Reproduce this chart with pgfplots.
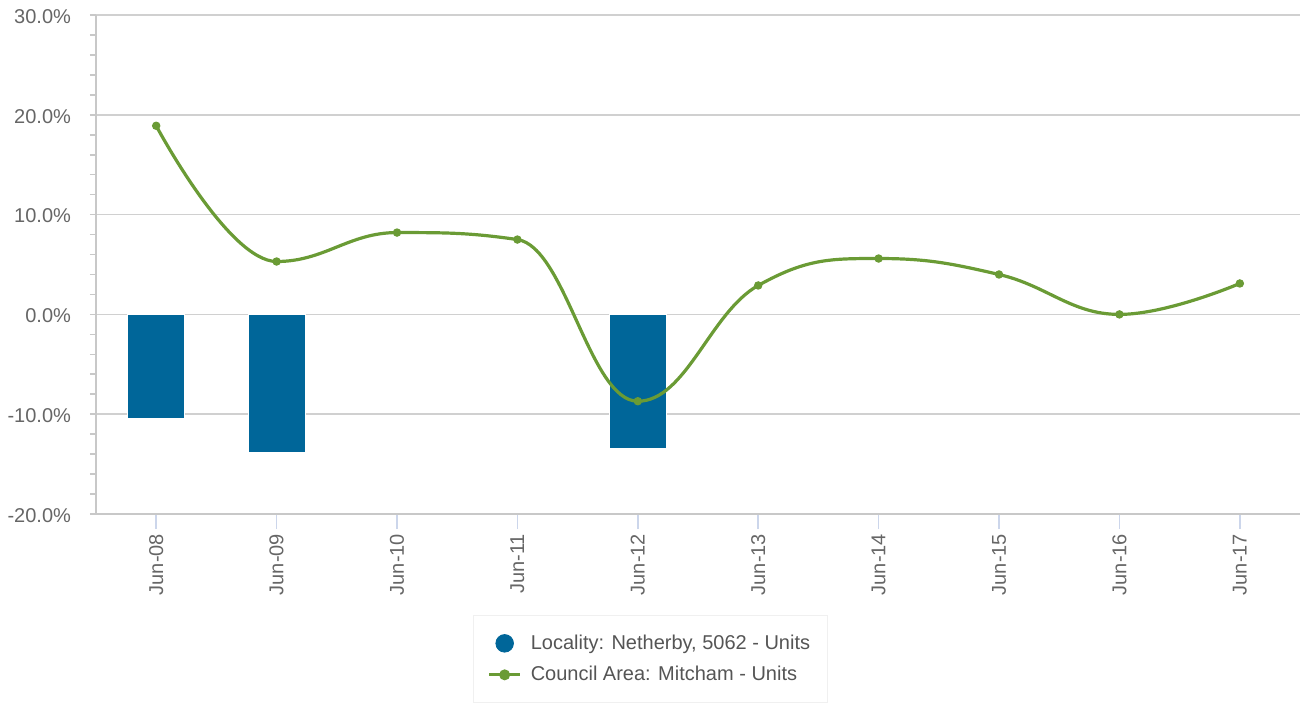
\documentclass[border=0pt]{standalone}
\usepackage{pgfplots}
\pgfplotsset{compat=1.18}
\usepackage{fontspec}
\setmainfont{Liberation Sans}
\definecolor{barblue}{HTML}{006699}
\definecolor{linegreen}{HTML}{6A9B35}
\definecolor{gridgray}{HTML}{D0D0D0}
\definecolor{axisgray}{HTML}{C8C8C8}
\definecolor{tickblue}{HTML}{CCD6EB}
\definecolor{labelgray}{HTML}{666666}
\definecolor{legendgray}{HTML}{555555}

% spline handler with clamped control points (no false extremes), like the web chart
\makeatletter
\newcount\hc@n \newcount\hc@i \newcount\hc@j
\def\hc@v#1#2{\csname hc#1\the#2\endcsname}
\def\pgfplothandlerhcspline{%
  \def\pgf@plotstreamstart{%
    \global\hc@n=0
    \global\let\pgf@plotstreampoint=\hc@point
    \global\let\pgf@plotstreamspecial=\pgfutil@gobble
    \global\let\pgf@plotstreamend=\hc@end}}
\def\hc@point#1{\pgf@process{#1}\global\advance\hc@n by1
  \expandafter\xdef\csname hcx\the\hc@n\endcsname{\pgf@sys@tonumber\pgf@x}%
  \expandafter\xdef\csname hcy\the\hc@n\endcsname{\pgf@sys@tonumber\pgf@y}}
\def\hc@compute{%
  \hc@j=\hc@i \advance\hc@j by-1
  \edef\hc@xp{\hc@v{x}\hc@j}\edef\hc@yp{\hc@v{y}\hc@j}%
  \hc@j=\hc@i \advance\hc@j by1
  \edef\hc@xn{\hc@v{x}\hc@j}\edef\hc@yn{\hc@v{y}\hc@j}%
  \edef\hc@x{\hc@v{x}\hc@i}\edef\hc@y{\hc@v{y}\hc@i}%
  \pgfmathsetmacro\hc@lx{(1.5*\hc@x+(\hc@xp))/2.5}%
  \pgfmathsetmacro\hc@ly{(1.5*\hc@y+(\hc@yp))/2.5}%
  \pgfmathsetmacro\hc@rx{(1.5*\hc@x+(\hc@xn))/2.5}%
  \pgfmathsetmacro\hc@ry{(1.5*\hc@y+(\hc@yn))/2.5}%
  \pgfmathsetmacro\hc@corr{(\hc@ry-(\hc@ly))*(\hc@rx-(\hc@x))/(\hc@rx-(\hc@lx))+\hc@y-(\hc@ry)}%
  \pgfmathsetmacro\hc@ly{\hc@ly+(\hc@corr)}%
  \pgfmathsetmacro\hc@ry{\hc@ry+(\hc@corr)}%
  \ifdim\hc@ly pt>\hc@yp pt\ifdim\hc@ly pt>\hc@y pt
    \pgfmathsetmacro\hc@ly{max(\hc@yp,\hc@y)}\pgfmathsetmacro\hc@ry{2*\hc@y-(\hc@ly)}\fi\fi
  \ifdim\hc@ly pt<\hc@yp pt\ifdim\hc@ly pt<\hc@y pt
    \pgfmathsetmacro\hc@ly{min(\hc@yp,\hc@y)}\pgfmathsetmacro\hc@ry{2*\hc@y-(\hc@ly)}\fi\fi
  \ifdim\hc@ry pt>\hc@yn pt\ifdim\hc@ry pt>\hc@y pt
    \pgfmathsetmacro\hc@ry{max(\hc@yn,\hc@y)}\pgfmathsetmacro\hc@ly{2*\hc@y-(\hc@ry)}\fi\fi
  \ifdim\hc@ry pt<\hc@yn pt\ifdim\hc@ry pt<\hc@y pt
    \pgfmathsetmacro\hc@ry{min(\hc@yn,\hc@y)}\pgfmathsetmacro\hc@ly{2*\hc@y-(\hc@ry)}\fi\fi
  \expandafter\xdef\csname hclx\the\hc@i\endcsname{\hc@lx}%
  \expandafter\xdef\csname hcly\the\hc@i\endcsname{\hc@ly}%
  \expandafter\xdef\csname hcrx\the\hc@i\endcsname{\hc@rx}%
  \expandafter\xdef\csname hcry\the\hc@i\endcsname{\hc@ry}}
\def\hc@end{%
  \pgfpathmoveto{\pgfqpoint{\csname hcx1\endcsname pt}{\csname hcy1\endcsname pt}}%
  \expandafter\xdef\csname hcrx1\endcsname{\csname hcx1\endcsname}%
  \expandafter\xdef\csname hcry1\endcsname{\csname hcy1\endcsname}%
  \expandafter\xdef\csname hclx\the\hc@n\endcsname{\hc@v{x}\hc@n}%
  \expandafter\xdef\csname hcly\the\hc@n\endcsname{\hc@v{y}\hc@n}%
  \hc@i=2
  \loop\ifnum\hc@i<\hc@n
    \hc@compute
    \advance\hc@i by1
  \repeat
  \hc@i=2
  \loop\ifnum\hc@i>\hc@n\else
    \hc@j=\hc@i \advance\hc@j by-1
    \pgfpathcurveto{\pgfqpoint{\hc@v{rx}\hc@j pt}{\hc@v{ry}\hc@j pt}}%
      {\pgfqpoint{\hc@v{lx}\hc@i pt}{\hc@v{ly}\hc@i pt}}%
      {\pgfqpoint{\hc@v{x}\hc@i pt}{\hc@v{y}\hc@i pt}}%
    \advance\hc@i by1
  \repeat}
\tikzset{hcspline/.code={\let\tikz@plot@handler=\pgfplothandlerhcspline}}
\makeatother

\begin{document}
\begin{tikzpicture}
\begin{axis}[
  scale only axis, width=602pt, height=249.5pt,
  xmin=-0.5, xmax=9.5, ymin=-20, ymax=30,
  axis x line*=bottom, axis y line*=left,
  axis line style={axisgray, line width=0.8pt},
  xtick={0,...,9},
  xticklabels={Jun-08,Jun-09,Jun-10,Jun-11,Jun-12,Jun-13,Jun-14,Jun-15,Jun-16,Jun-17},
  xticklabel style={rotate=90, anchor=east, font=\fontsize{10}{11}\selectfont, text=labelgray, xshift=-3.5pt},
  x tick style={tickblue, line width=0.8pt, /pgfplots/major tick length=7.5pt},
  ytick={-20,-10,0,10,20,30},
  minor y tick num=4,
  y tick style={axisgray, line width=0.8pt},
  tick align=outside,
  major tick length=3pt, minor tick length=3pt,
  ymajorgrids, major grid style={gridgray, line width=0.8pt},
  yticklabel={\pgfmathprintnumber[fixed,fixed zerofill,precision=1]{\tick}\%},
  yticklabel style={font=\fontsize{10}{11}\selectfont, text=labelgray, xshift=-6pt, yshift=-0.7pt},
  /pgf/number format/assume math mode=true,
  clip=false,
  legend style={at={(0.3131,-0.2024)}, anchor=north west, draw=gray!12, line width=0.6pt,
    font=\fontsize{10}{11}\selectfont, text=legendgray,
    inner xsep=7pt, inner ysep=8pt, row sep=4pt, column sep=3pt,
    nodes={inner sep=1.5pt}},
  legend cell align=left,
]
\addplot[ybar, bar width=28.5pt, bar shift=0pt, fill=barblue, draw=white, line width=0.4pt,
  legend image code/.code={\fill[barblue] (7.75pt,0pt) circle (4.4pt);}]
  coordinates {(0,-10.4) (1,-13.8) (4,-13.4)};
\addlegendentry{Locality: Netherby, 5062 - Units}
\addplot[linegreen, line width=1.6pt, hcspline, mark=*, mark size=1.8pt,
  mark options={solid, fill=linegreen, draw=linegreen, line width=0.6pt},
  legend image code/.code={\draw[linegreen, line width=1.6pt] (0pt,0pt) -- (15.5pt,0pt);
    \fill[linegreen] (7.75pt,0pt) circle (1.9pt);}]
  coordinates {(0,18.9) (1,5.3) (2,8.2) (3,7.5) (4,-8.7) (5,2.9) (6,5.6) (7,4.0) (8,0.0) (9,3.1)};
\addlegendentry{Council Area: Mitcham - Units}
\end{axis}
\pgfresetboundingbox
\path[use as bounding box] (-48pt,-94pt) rectangle (602pt,257pt);
\end{tikzpicture}
\end{document}
